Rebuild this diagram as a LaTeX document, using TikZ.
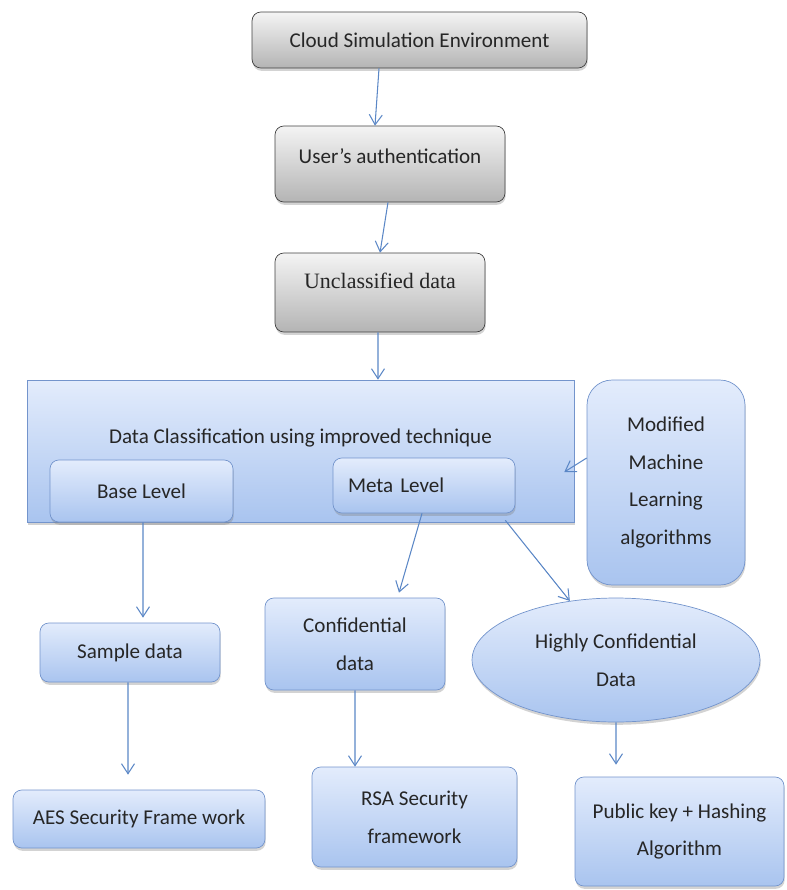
\documentclass[tikz,border=0pt]{standalone}
\usepackage{fontspec}
\setmainfont{Carlito}
\newfontfamily\serifface{Liberation Serif}
\usetikzlibrary{arrows.meta,shadows,shapes.geometric}

\definecolor{boxline}{HTML}{7394CC}
\definecolor{boxtop}{HTML}{E3ECFC}
\definecolor{boxbot}{HTML}{A9C4EF}
\definecolor{greytop}{HTML}{F4F4F4}
\definecolor{greybot}{HTML}{B4B4B4}
\definecolor{arrowblue}{HTML}{5B87C6}

\begin{document}
\begin{tikzpicture}[x=0.02cm,y=-0.02cm,>={Straight Barb[length=2mm,width=2.6mm]},
    every node/.style={font=\fontsize{12}{21.5}\selectfont,text=black!85},
    shdw/.style={drop shadow={shadow xshift=0.4pt,shadow yshift=-1.6pt,opacity=0.35}},
    bbox/.style={draw=boxline,rounded corners=5pt,top color=boxtop,bottom color=boxbot,shdw,align=center},
    gbox/.style={draw=black!75,rounded corners=5pt,top color=greytop,bottom color=greybot,shdw,align=center},
    link/.style={->,draw=arrowblue,line width=0.6pt}]
  \useasboundingbox (0,0) rectangle (787,890);
  % top of the chain
  \node[gbox,minimum width=6.7cm,minimum height=1.12cm] (cloud) at (419.5,40) {Cloud Simulation Environment};
  \node[gbox,minimum width=4.6cm,inner ysep=0pt,text height=0.74cm,text depth=0.78cm] (auth) at (390,164) {User's authentication};
  \node[gbox,minimum width=4.2cm,inner ysep=0pt,text height=0.7cm,text depth=0.88cm,
        font=\serifface\fontsize{12.5}{15}\selectfont] (unclass) at (380,292.5) {Unclassified data};
  % classification block
  \node[draw=boxline,top color=boxtop,bottom color=boxbot,shdw,minimum width=10.94cm,inner ysep=0pt,
        text height=1.26cm,text depth=1.58cm] (classify) at (300.5,451) {Data Classification using improved technique};
  \node[bbox,minimum width=3.66cm,minimum height=1.24cm] (base) at (141.5,491) {Base Level};
  \node[bbox,text width=3.04cm,inner xsep=0.3cm,align=left,minimum height=1.1cm] (meta) at (424,485.5) {Meta Level};
  \node[bbox,rounded corners=0.5cm,minimum width=3.16cm,minimum height=4.1cm] (mml) at (666,482.5) {Modified\\Machine\\Learning\\algorithms};
  % data classes
  \node[bbox,minimum width=3.6cm,minimum height=1.18cm] (sample) at (130,652.5) {Sample data};
  \node[bbox,minimum width=3.6cm,minimum height=1.84cm] (conf) at (355,644) {Confidential\\data};
  \node[bbox,ellipse,minimum width=5.76cm,minimum height=2.48cm,inner sep=0pt] (hconf) at (616,660) {Highly Confidential\\Data};
  % security schemes
  \node[bbox,minimum width=5.04cm,minimum height=1.16cm] (aes) at (139,819) {AES Security Frame work};
  \node[bbox,minimum width=4.1cm,minimum height=2cm] (rsa) at (414.5,817) {RSA Security\\framework};
  \node[bbox,minimum width=4.18cm,minimum height=2.18cm] (pkh) at (679.5,831.5) {Public key + Hashing\\Algorithm};

  \draw[link] ([xshift=-0.81cm]cloud.south) -- ([xshift=-0.3cm]auth.north);
  \draw[link] ([xshift=-0.04cm]auth.south) -- (unclass.north);
  \draw[link] ([xshift=-0.04cm]unclass.south) -- ([xshift=1.55cm]classify.north);
  \draw[link] ([yshift=0.49cm]mml.west) -- ([xshift=-0.2cm,yshift=-0.42cm]classify.east);
  \draw[link] ([xshift=0.03cm]base.south) -- ([xshift=0.26cm,yshift=0.1cm]sample.north);
  \draw[link] ([xshift=-0.04cm]meta.south) -- ([xshift=0.88cm,yshift=0.1cm]conf.north);
  \draw[link] ([xshift=-0.2cm,yshift=-0.14cm]meta.south east) -- (hconf.128);
  \draw[link] ([xshift=-0.04cm]sample.south) -- ([xshift=-0.22cm,yshift=0.3cm]aes.north);
  \draw[link] (conf.south) -- ([xshift=-1.19cm]rsa.north);
  \draw[link] (hconf.south) -- ([xshift=-1.27cm,yshift=0.24cm]pkh.north);
\end{tikzpicture}
\end{document}
